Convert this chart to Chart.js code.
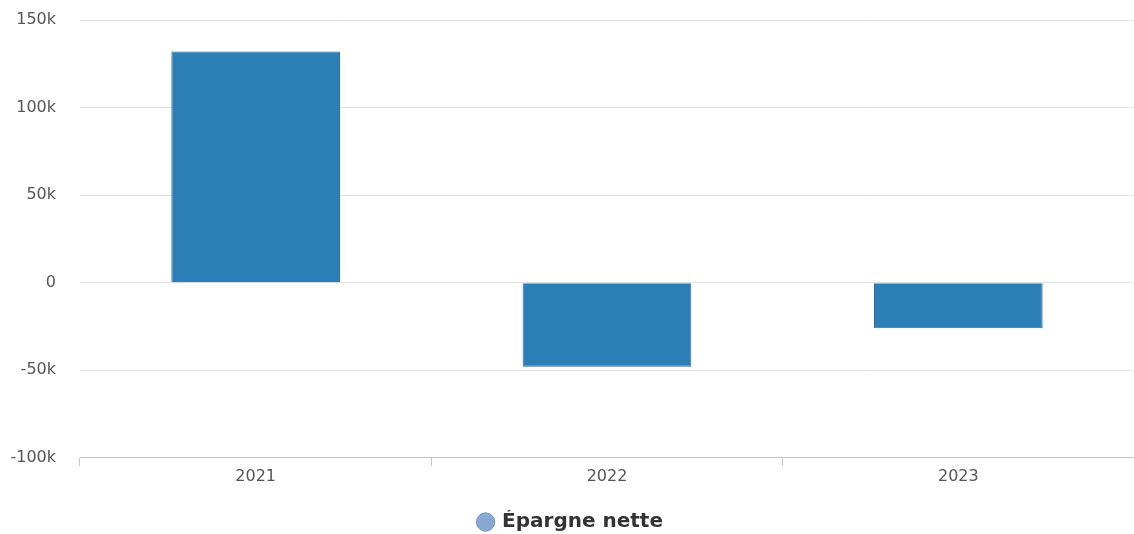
<!DOCTYPE html>
<html>
<head>
<meta charset="utf-8">
<script src="https://cdn.jsdelivr.net/npm/chart.js@4/dist/chart.umd.min.js"></script>
<style>
  html, body { margin: 0; padding: 0; background: #fff; }
  #wrap { width: 1134px; height: 534px; position: relative; }
</style>
</head>
<body>
<div id="wrap"><canvas id="epargneChart"></canvas></div>
<script>
const years = ['2021', '2022', '2023'];
const epargneNette = [132000, -48000, -26000];
const yTicks = [-100000, -50000, 0, 50000, 100000, 150000];

const fmtK = v => v === 0 ? '0' : (v / 1000) + 'k';

const ctx = document.getElementById('epargneChart').getContext('2d');
new Chart(ctx, {
    type: 'bar',
    data: {
        labels: years,
        datasets: [{
            label: 'Épargne nette',
            data: epargneNette,
            backgroundColor: '#2b7fb6',
            borderColor: '#2a6f9f',
            borderWidth: 1,
            barPercentage: 0.6,
            categoryPercentage: 0.8
        }]
    },
    options: {
        responsive: true,
        maintainAspectRatio: false,
        animation: false,
        layout: { padding: { top: 20, left: 8, right: 0, bottom: -8 } },
        scales: {
            x: {
                offset: true,
                afterFit: axis => { axis.height += 23; },
                grid: {
                    offset: true,
                    drawOnChartArea: false,
                    drawTicks: true,
                    tickLength: 8,
                    color: '#c4c4c4'
                },
                border: { display: true, color: '#c4c4c4' },
                ticks: {
                    color: '#555',
                    font: { family: 'DejaVu Sans', size: 16 },
                    padding: 1
                }
            },
            y: {
                min: yTicks[0],
                max: yTicks[yTicks.length - 1],
                afterBuildTicks: axis => { axis.ticks = yTicks.map(v => ({ value: v })); },
                afterFit: axis => { axis.width = 72; axis.paddingTop = 0; },
                grid: { color: '#e2e2e2', drawTicks: false },
                border: { display: false },
                ticks: {
                    color: '#555',
                    font: { family: 'DejaVu Sans', size: 16 },
                    padding: 24,
                    callback: v => fmtK(v)
                }
            }
        },
        plugins: {
            legend: {
                position: 'bottom',
                labels: {
                    usePointStyle: true,
                    pointStyle: 'circle',
                    boxWidth: 13,
                    boxHeight: 13,
                    color: '#333',
                    padding: 2,
                    font: { family: 'DejaVu Sans', size: 20, weight: 'bold' },
                    generateLabels: chart => [{
                        text: 'Épargne nette',
                        fillStyle: '#86a8d2',
                        strokeStyle: '#7497c4',
                        lineWidth: 1,
                        pointStyle: 'circle',
                        datasetIndex: 0,
                        fontColor: '#333'
                    }]
                }
            },
            tooltip: { enabled: false }
        }
    }
});
</script>
</body>
</html>
